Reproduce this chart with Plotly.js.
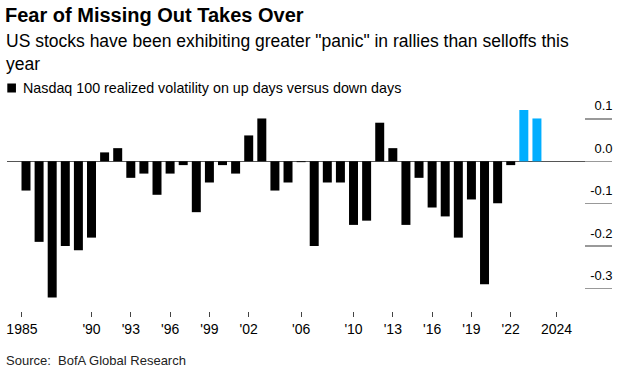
<!DOCTYPE html>
<html>
<head>
<meta charset="utf-8">
<script src="https://cdn.plot.ly/plotly-3.0.1.min.js"></script>
<style>html,body{margin:0;padding:0;background:#fff;}#chart{width:621px;height:371px;}</style>
</head>
<body>
<div id="chart"></div>
<script>
// ---- data ----
const years = [1985,1986,1987,1988,1989,1990,1991,1992,1993,1994,1995,1996,1997,1998,1999,
  2000,2001,2002,2003,2004,2005,2006,2007,2008,2009,2010,2011,2012,2013,2014,2015,2016,2017,
  2018,2019,2020,2021,2022,2023,2024];
const volDiff = [-0.069,-0.190,-0.321,-0.200,-0.210,-0.180,0.021,0.031,-0.039,-0.029,-0.079,
  -0.029,-0.009,-0.120,-0.050,-0.009,-0.029,0.061,0.101,-0.069,-0.050,-0.002,-0.200,-0.050,
  -0.050,-0.150,-0.140,0.091,0.031,-0.150,-0.039,-0.109,-0.130,-0.180,-0.090,-0.290,-0.099,
  -0.009,0.121,0.101];
const highlightYears = [2023, 2024];
const xTickLabels = ['1985',"'90","'93","'96","'99","'02","'06","'10","'13","'16","'19","'22",'2024'];
const yTickValues = [0.1, 0, -0.1, -0.2, -0.3];
const yTickLabels = ['0.1','0.0','-0.1','-0.2','-0.3'];

// x tick placement as drawn in the reference: axis start, year centres, axis end
const xTickPositions = [1984.69,1990,1993,1996,1999,2002,2006,2010,2013,2016,2019,2022,2025.5];

const FONT = '"Liberation Sans", Arial, Helvetica, sans-serif';
const colors = years.map(y => highlightYears.includes(y) ? '#00aeff' : '#000000');

const TOP = 92, BOTTOM = 311, H = BOTTOM - TOP;
const py = Y => (BOTTOM - Y) / H;   // pixel row -> paper y

const trace = {
  type: 'bar',
  x: years,
  y: volDiff,
  width: 0.686,
  marker: {color: colors, line: {width: 0}},
  name: 'Nasdaq 100 realized volatility on up days versus down days',
  showlegend: false,
  hoverinfo: 'x+y'
};

const layout = {
  width: 621,
  height: 371,
  margin: {l: 7, r: 9, t: TOP, b: 371 - BOTTOM},
  paper_bgcolor: '#ffffff',
  plot_bgcolor: '#ffffff',
  font: {family: FONT, color: '#000000'},
  showlegend: false,
  title: {
    text: '<b>Fear of Missing Out Takes Over</b>',
    font: {family: FONT, size: 20, color: '#000000'},
    x: 5/621, xref: 'container', xanchor: 'left',
    y: 1 - 15/371, yref: 'container', yanchor: 'middle'
  },
  xaxis: {
    range: [1983.55, 2029.73],
    tickmode: 'array',
    tickvals: xTickPositions,
    ticktext: xTickLabels,
    ticks: 'outside', ticklen: 5, tickwidth: 1, tickcolor: '#444444',
    tickfont: {family: FONT, size: 14, color: '#000000'},
    showline: false, showgrid: false, zeroline: false,
    fixedrange: true
  },
  yaxis: {
    range: [-0.35307, 0.16344],
    side: 'right',
    tickmode: 'array',
    tickvals: yTickValues,
    ticktext: yTickLabels,
    ticks: 'inside', ticklen: 27, tickwidth: 1.3, tickcolor: '#999999',
    ticklabelposition: 'inside',
    ticklabelshift: -13,
    ticklabelstandoff: -28,
    tickfont: {family: FONT, size: 13, color: '#000000'},
    showline: false, showgrid: false,
    zeroline: true, zerolinecolor: '#555555', zerolinewidth: 1.3,
    fixedrange: true
  },
  shapes: [
    {type: 'rect', xref: 'paper', yref: 'paper',
     x0: 0.0005, x1: 0.0148, y0: py(92.5), y1: py(83.5),
     fillcolor: '#000000', line: {width: 0}}
  ],
  annotations: [
    {text: 'US stocks have been exhibiting greater "panic" in rallies than selloffs this<br>year',
     xref: 'paper', yref: 'paper', x: (4-7)/605, y: py(52.5),
     xanchor: 'left', yanchor: 'middle', align: 'left', showarrow: false,
     font: {family: FONT, size: 17.5, color: '#000000'}},
    {text: 'Nasdaq 100 realized volatility on up days versus down days',
     xref: 'paper', yref: 'paper', x: (21-7)/605, y: py(88),
     xanchor: 'left', yanchor: 'middle', align: 'left', showarrow: false,
     font: {family: FONT, size: 14.3, color: '#000000'}},
    {text: 'Source:\u00a0 BofA Global Research',
     xref: 'paper', yref: 'paper', x: (4-7)/605, y: py(360),
     xanchor: 'left', yanchor: 'middle', align: 'left', showarrow: false,
     font: {family: FONT, size: 13, color: '#222222'}}
  ]
};

Plotly.newPlot('chart', [trace], layout, {displayModeBar: false, staticPlot: true});
</script>
</body>
</html>
